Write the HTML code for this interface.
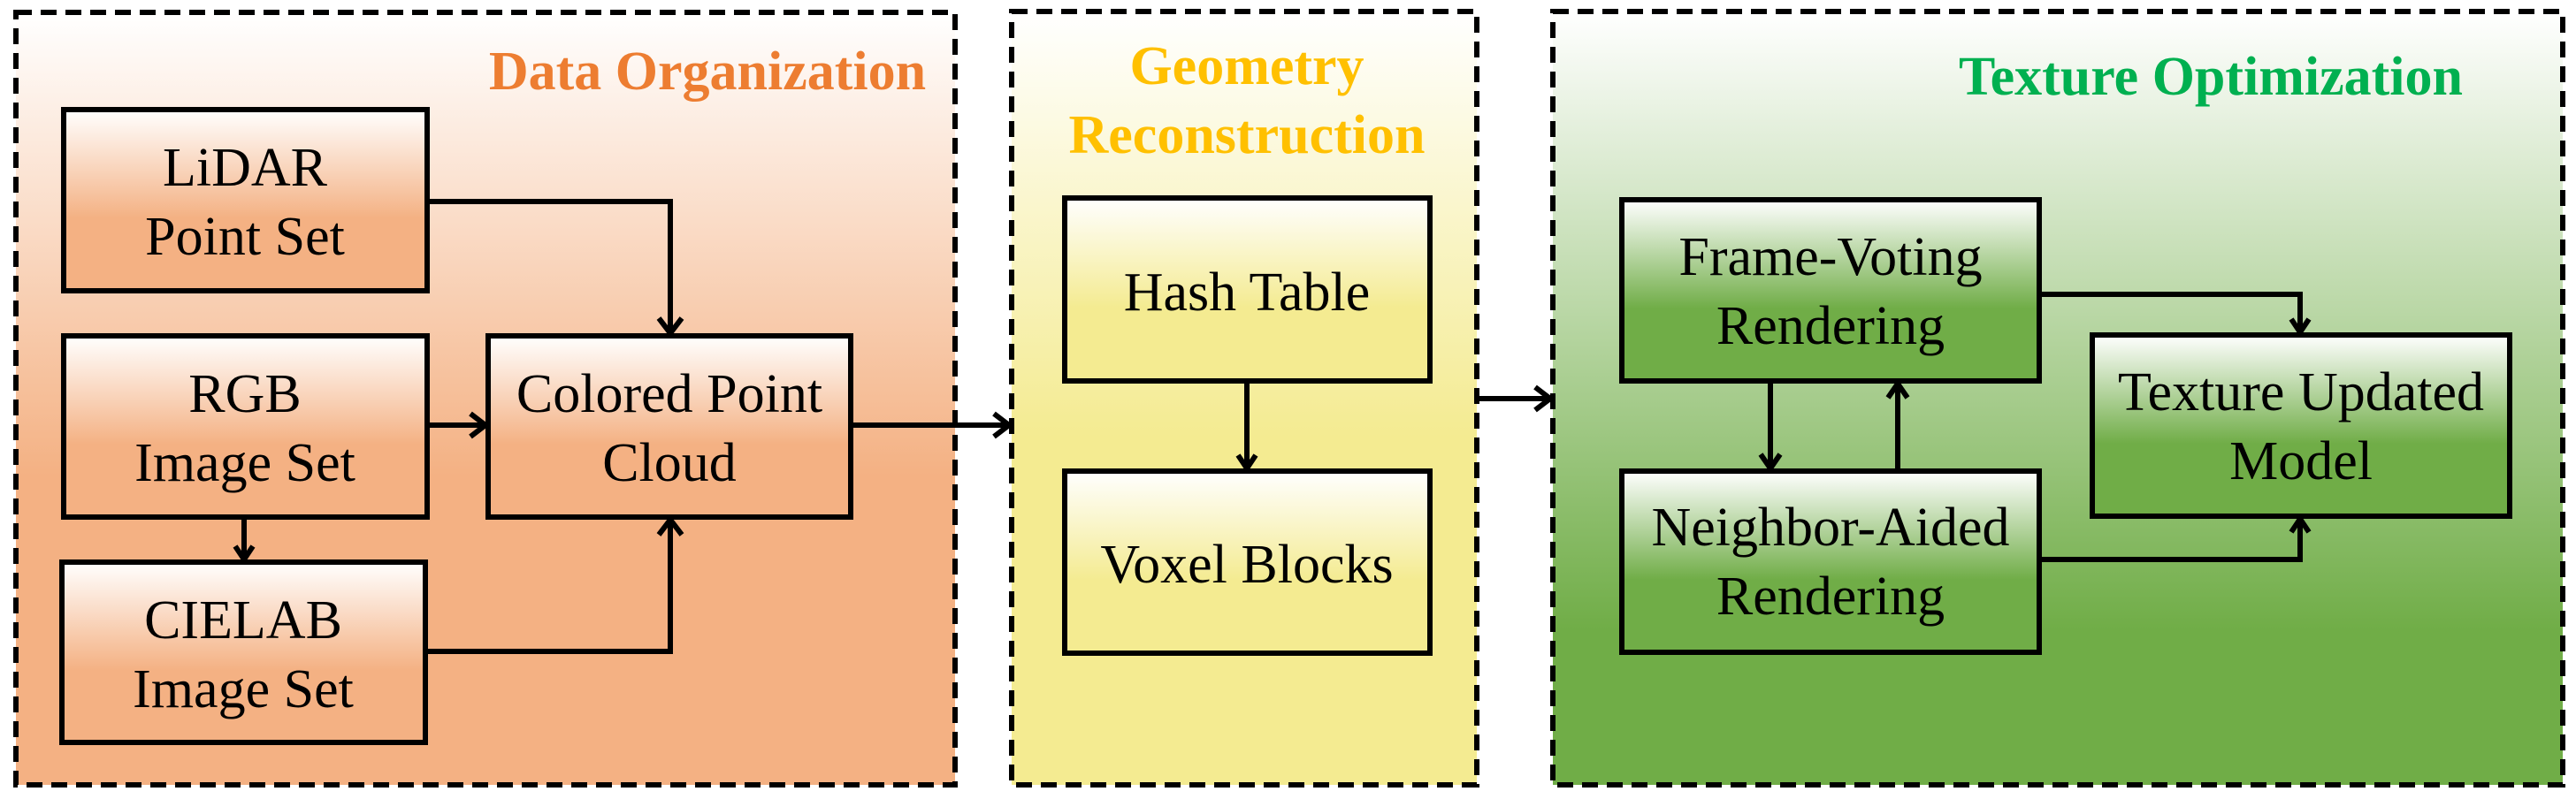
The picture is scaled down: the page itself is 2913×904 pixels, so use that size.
<!DOCTYPE html>
<html><head><meta charset="utf-8"><style>
html,body{margin:0;padding:0;background:#fff;}
svg{display:block;}
svg text{font-family:"Liberation Serif","Times New Roman",Times,serif !important;}
</style></head><body>
<svg width="2913" height="904" viewBox="0 0 2913 904" xmlns="http://www.w3.org/2000/svg" font-family="Liberation Serif, Times New Roman, serif">
<defs>
<linearGradient id="p1" x1="0" y1="0" x2="0" y2="1"><stop offset="0" stop-color="#fff"/><stop offset="0.6" stop-color="#F4B183"/><stop offset="1" stop-color="#F4B183"/></linearGradient>
<linearGradient id="p2" x1="0" y1="0" x2="0" y2="1"><stop offset="0" stop-color="#fff"/><stop offset="0.55" stop-color="#F4EB91"/><stop offset="1" stop-color="#F4EB91"/></linearGradient>
<linearGradient id="p3" x1="0" y1="0" x2="0" y2="1"><stop offset="0" stop-color="#fff"/><stop offset="0.8" stop-color="#70AD47"/><stop offset="1" stop-color="#70AD47"/></linearGradient>
<linearGradient id="b1" x1="0" y1="0" x2="0" y2="1"><stop offset="0" stop-color="#fff"/><stop offset="0.6" stop-color="#F4B183"/><stop offset="1" stop-color="#F4B183"/></linearGradient>
<linearGradient id="b2" x1="0" y1="0" x2="0" y2="1"><stop offset="0" stop-color="#fff"/><stop offset="0.6" stop-color="#F4EB91"/><stop offset="1" stop-color="#F4EB91"/></linearGradient>
<linearGradient id="b3" x1="0" y1="0" x2="0" y2="1"><stop offset="0" stop-color="#fff"/><stop offset="0.6" stop-color="#70AD47"/><stop offset="1" stop-color="#70AD47"/></linearGradient>
</defs>
<g stroke="#000" stroke-width="6" stroke-dasharray="18 10">
<rect x="18" y="14" width="1062" height="874" fill="url(#p1)"/>
<rect x="1144" y="13" width="526" height="875" fill="url(#p2)"/>
<rect x="1756" y="13" width="1142" height="875" fill="url(#p3)"/>
</g>
<g font-weight="bold" font-size="62" text-anchor="middle" font-family="Liberation Serif, serif">
<text x="800" y="101" fill="#ED7D31">Data Organization</text>
<text x="1410" y="95" fill="#FFC000">Geometry</text>
<text x="1410" y="173" fill="#FFC000">Reconstruction</text>
<text x="2500" y="107" fill="#00B050">Texture Optimization</text>
</g>
<g stroke="#000" stroke-width="6">
<rect x="72" y="124" width="411" height="205" fill="url(#b1)"/>
<rect x="72" y="380" width="411" height="205" fill="url(#b1)"/>
<rect x="70" y="636" width="411" height="204" fill="url(#b1)"/>
<rect x="552" y="380" width="410" height="205" fill="url(#b1)"/>
<rect x="1204" y="224" width="413" height="207" fill="url(#b2)"/>
<rect x="1204" y="533" width="413" height="206" fill="url(#b2)"/>
<rect x="1834" y="226" width="472" height="205" fill="url(#b3)"/>
<rect x="1834" y="533" width="472" height="205" fill="url(#b3)"/>
<rect x="2366" y="379" width="472" height="205" fill="url(#b3)"/>
</g>
<g font-size="62" text-anchor="middle" fill="#000" font-family="Liberation Serif, serif">
<text x="277" y="210">LiDAR</text><text x="277" y="288">Point Set</text>
<text x="277" y="466">RGB</text><text x="277" y="544">Image Set</text>
<text x="275" y="722">CIELAB</text><text x="275" y="800">Image Set</text>
<text x="757" y="466">Colored Point</text><text x="757" y="544">Cloud</text>
<text x="1410" y="351">Hash Table</text>
<text x="1410" y="659">Voxel Blocks</text>
<text x="2070" y="311">Frame-Voting</text><text x="2070" y="389">Rendering</text>
<text x="2070" y="617">Neighbor-Aided</text><text x="2070" y="695">Rendering</text>
<text x="2602" y="464">Texture Updated</text><text x="2602" y="542">Model</text>
</g>
<g stroke="#000" stroke-width="6" fill="none">
<polyline points="483,228 758,228 758,376"/>
<polyline points="745,360 758,377 771,360"/>
<line x1="483" y1="481" x2="548" y2="481"/>
<polyline points="532,468 549,481 532,494"/>
<line x1="276" y1="585" x2="276" y2="632"/>
<polyline points="266,618 276,633 286,618"/>
<polyline points="481,737 758,737 758,589"/>
<polyline points="745,605 758,588 771,605"/>
<line x1="962" y1="481" x2="1140" y2="481"/>
<polyline points="1124,468 1141,481 1124,494"/>
<line x1="1410" y1="431" x2="1410" y2="529"/>
<polyline points="1400,515 1410,530 1420,515"/>
<line x1="1670" y1="451" x2="1752" y2="451"/>
<polyline points="1736,438 1753,451 1736,464"/>
<polyline points="2306,333 2601,333 2601,375"/>
<polyline points="2591,361 2601,376 2611,361"/>
<polyline points="2306,633 2601,633 2601,588"/>
<polyline points="2591,602 2601,587 2611,602"/>
<line x1="2002" y1="431" x2="2002" y2="529"/>
<polyline points="1991,514 2002,530 2013,514"/>
<line x1="2146" y1="533" x2="2146" y2="435"/>
<polyline points="2135,450 2146,434 2157,450"/>
</g>
</svg>
</body></html>
